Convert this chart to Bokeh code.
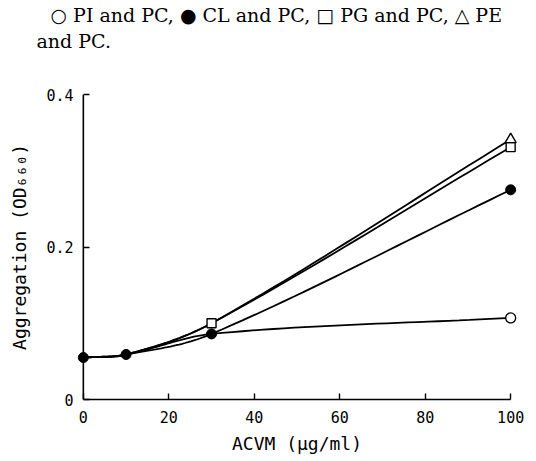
import numpy as np
from bokeh.plotting import figure
from bokeh.layouts import column
from bokeh.models import Range1d, FixedTicker, Span, Title
from bokeh.embed import file_html
from bokeh.resources import INLINE

# Data
acvm = [0, 10, 30, 100]
pi_pc = [0.055, 0.059, 0.086, 0.107]
cl_pc = [0.055, 0.059, 0.086, 0.275]
pg_pc = [0.055, 0.059, 0.100, 0.331]
pe_pc = [0.055, 0.059, 0.100, 0.341]

x_ticks = [0, 20, 40, 60, 80, 100]
y_ticks = [0, 0.2, 0.4]
y_tick_labels = {0: "0", 0.2: "0.2", 0.4: "0.4"}

legend_line1 = "\u25CB PI and PC, \u25CF CL and PC, \u25A1 PG and PC, \u25B3 PE"
legend_line2 = "and PC."
x_label = "ACVM (\u03BCg/ml)"
y_label = "Aggregation (OD\u2086\u2086\u2080)"


def smooth(xs, ys, n=30):
    """Cubic Hermite smoothing of the drawn line through the data points."""
    xs = np.asarray(xs, float)
    ys = np.asarray(ys, float)
    px = np.concatenate([[2 * xs[0] - xs[1]], xs, [2 * xs[-1] - xs[-2]]])
    py = np.concatenate([[2 * ys[0] - ys[1]], ys, [2 * ys[-1] - ys[-2]]])
    ox, oy = [], []
    for i in range(1, len(px) - 2):
        t = np.linspace(0, 1, n)
        h = px[i + 1] - px[i]
        my0 = (py[i + 1] - py[i - 1]) / (px[i + 1] - px[i - 1]) * h
        my1 = (py[i + 2] - py[i]) / (px[i + 2] - px[i]) * h
        h00 = 2 * t**3 - 3 * t**2 + 1
        h10 = t**3 - 2 * t**2 + t
        h01 = -2 * t**3 + 3 * t**2
        h11 = t**3 - t**2
        ox.extend(px[i] + h * t)
        oy.extend(h00 * py[i] + h10 * my0 + h01 * py[i + 1] + h11 * my1)
    return ox, oy


W, H = 536, 461
TOP_H = 75          # height of the caption strip
FL, FB = 76, 62     # frame left / bottom border of the chart in px

# ---- caption strip (legend text as titles) ----
cap = figure(width=W, height=TOP_H, output_backend="svg", toolbar_location=None,
             x_axis_type=None, y_axis_type=None,
             x_range=Range1d(0, 1), y_range=Range1d(0, 1),
             min_border_left=FL, min_border_right=19, min_border_top=0,
             min_border_bottom=0, margin=0)
cap.outline_line_color = None
cap.background_fill_color = "white"
cap.border_fill_color = "white"
t2 = Title(text=legend_line2, align="left", offset=36 - FL, standoff=2,
           text_font="DejaVu Serif", text_font_size="19px",
           text_font_style="normal", text_color="black")
t1 = Title(text=legend_line1, align="left", offset=50 - FL, standoff=2,
           text_font="DejaVu Serif", text_font_size="19px",
           text_font_style="normal", text_color="black")
cap.add_layout(t2, "above")
cap.add_layout(t1, "above")

# ---- chart ----
p = figure(width=W, height=H - TOP_H, output_backend="svg",
           toolbar_location=None,
           x_range=Range1d(-1.6, 101.6), y_range=Range1d(0, 0.4),
           min_border_left=FL, min_border_right=19,
           min_border_top=94 - TOP_H, min_border_bottom=FB, margin=0)
p.outline_line_color = None
p.grid.visible = False
p.background_fill_color = "white"
p.border_fill_color = "white"

for ax in (p.xaxis[0], p.yaxis[0]):
    ax.axis_line_color = "black"
    ax.axis_line_width = 1.6
    ax.major_tick_line_width = 1.4
    ax.minor_tick_line_color = None
    ax.major_label_text_font = "DejaVu Sans Mono"
    ax.major_label_text_font_size = "15px"
    ax.major_label_text_color = "black"
    ax.axis_label_text_font = "DejaVu Sans Mono"
    ax.axis_label_text_font_style = "normal"
    ax.axis_label_text_font_size = "18px"
    ax.axis_label_text_color = "black"

# x axis sits on the frame bottom (y = 0)
p.xaxis.bounds = (0, 100)
p.xaxis.major_tick_in = 6
p.xaxis.major_tick_out = 0
# y axis: frame edge is slightly left of x = 0, so draw the line at x = 0
p.yaxis.axis_line_color = None
p.yaxis.major_tick_in = 13
p.yaxis.major_tick_out = -7
p.add_layout(Span(location=0, dimension="height", line_color="black",
                  line_width=1.6))

p.xaxis.ticker = FixedTicker(ticks=x_ticks)
p.yaxis.ticker = FixedTicker(ticks=y_ticks)
p.yaxis.major_label_overrides = y_tick_labels
p.xaxis.axis_label = x_label
p.yaxis.axis_label = y_label
p.xaxis.major_label_standoff = 11
p.xaxis.axis_label_standoff = 7
p.yaxis.major_label_standoff = 3
p.yaxis.axis_label_standoff = 13

for ys in (pi_pc, cl_pc, pg_pc, pe_pc):
    sx, sy = smooth(acvm, ys)
    p.line(sx, sy, line_color="black", line_width=1.8)

p.scatter(acvm[3:], pi_pc[3:], marker="circle", size=10, fill_color="white",
          line_color="black", line_width=1.4)
p.scatter(acvm, cl_pc, marker="circle", size=10, fill_color="black",
          line_color="black")
p.scatter(acvm[2:], pg_pc[2:], marker="square", size=9, fill_color="white",
          line_color="black", line_width=1.4)
p.scatter(acvm[3:], pe_pc[3:], marker="triangle", size=11, fill_color="white",
          line_color="black", line_width=1.4)

layout = column(cap, p, spacing=0, margin=0)
open("out.html", "w").write(file_html(layout, INLINE))
